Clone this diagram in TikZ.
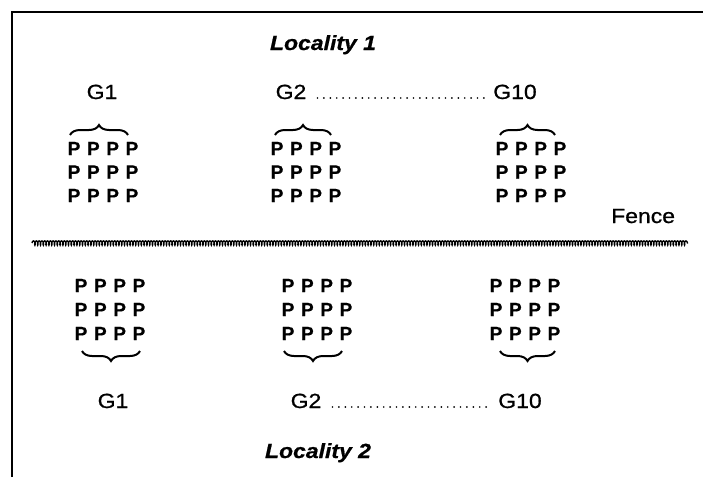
\documentclass[tikz,border=0pt]{standalone}
\usepackage{fontspec}
\setmainfont{Liberation Sans}
\newfontfamily\widefont[FakeStretch=1.12,FakeBold=0.8]{Liberation Sans}
\newfontfamily\pfont[FakeBold=0.6]{Liberation Sans}
\usetikzlibrary{decorations.pathreplacing,decorations.pathmorphing,calc}

\begin{document}
\begin{tikzpicture}[x=1pt,y=-1pt,
    plabel/.style={font=\pfont\fontsize{19}{19}\selectfont\bfseries, inner sep=0pt, anchor=base},
    glabel/.style={font=\widefont\fontsize{20.5}{20.5}\selectfont, inner sep=0pt, anchor=base},
    loclabel/.style={font=\widefont\fontsize{20.5}{20.5}\selectfont\bfseries\itshape, inner sep=0pt, anchor=base},
    fencelabel/.style={font=\widefont\fontsize{20.5}{20.5}\selectfont, inner sep=0pt, anchor=base west},
    grpbrace/.style={decorate, decoration={brace, amplitude=10pt}, line width=2pt},
    dotline/.style={line width=1.9pt, line cap=round, dash pattern=on 0pt off 6.4pt},
    fence/.style={line width=1.4pt, decorate, decoration={coil, aspect=0.4, segment length=2.8pt, amplitude=2.1pt}},
    border/.style={line width=1.8pt}
  ]
    \useasboundingbox (0,0) rectangle (703,477);
    % frame (left and top only)
    \coordinate (corner) at (12,12);
    \coordinate (topend) at (703,12);
    \coordinate (leftend) at (12,477);
    \draw[border] (leftend) -- (corner) -- (topend);

    % locality 1
    \node[loclabel] (loc1) at (323,50) {Locality 1};
    \node[glabel] (g1up) at (102,99) {G1};
    \node[glabel] (g2up) at (291,99) {G2};
    \node[glabel] (g10up) at (515,99) {G10};
    \draw[dotline] ($(g2up.base east)+(11,-1)$) -- ($(g10up.base west)+(-6,-1)$);
    \foreach \gx/\g in {103/1,306/2,531/3}{
      \foreach \r/\ry in {1/155,2/178.5,3/202}{
        \foreach \c in {1,...,4}{
          \node[plabel] (up-\g-\r-\c) at ({\gx+(\c-2.5)*19.3},\ry) {P};
        }
      }
    }
    \draw[grpbrace] (70,135) -- (128,135);
    \draw[grpbrace] (275,135) -- (331,135);
    \draw[grpbrace] (500,135) -- (555,135);

    % fence
    \coordinate (fenceA) at (32,243);
    \coordinate (fenceB) at (688,243);
    \draw[fence] (fenceA) -- (fenceB);
    \node[fencelabel] (fencetxt) at (611,223) {Fence};

    % locality 2
    \foreach \gx/\g in {110/1,317/2,525/3}{
      \foreach \r/\ry in {1/292,2/316,3/340}{
        \foreach \c in {1,...,4}{
          \node[plabel] (lo-\g-\r-\c) at ({\gx+(\c-2.5)*19.3},\ry) {P};
        }
      }
    }
    \draw[grpbrace] (140,351) -- (82,351);
    \draw[grpbrace] (342,351) -- (284,351);
    \draw[grpbrace] (555,351) -- (500,351);
    \node[glabel] (g1lo) at (113,408) {G1};
    \node[glabel] (g2lo) at (306,408) {G2};
    \node[glabel] (g10lo) at (520,408) {G10};
    \draw[dotline] ($(g2lo.base east)+(11,-1)$) -- ($(g10lo.base west)+(-6,-1)$);
    \node[loclabel] (loc2) at (318,458) {Locality 2};
\end{tikzpicture}
\end{document}
